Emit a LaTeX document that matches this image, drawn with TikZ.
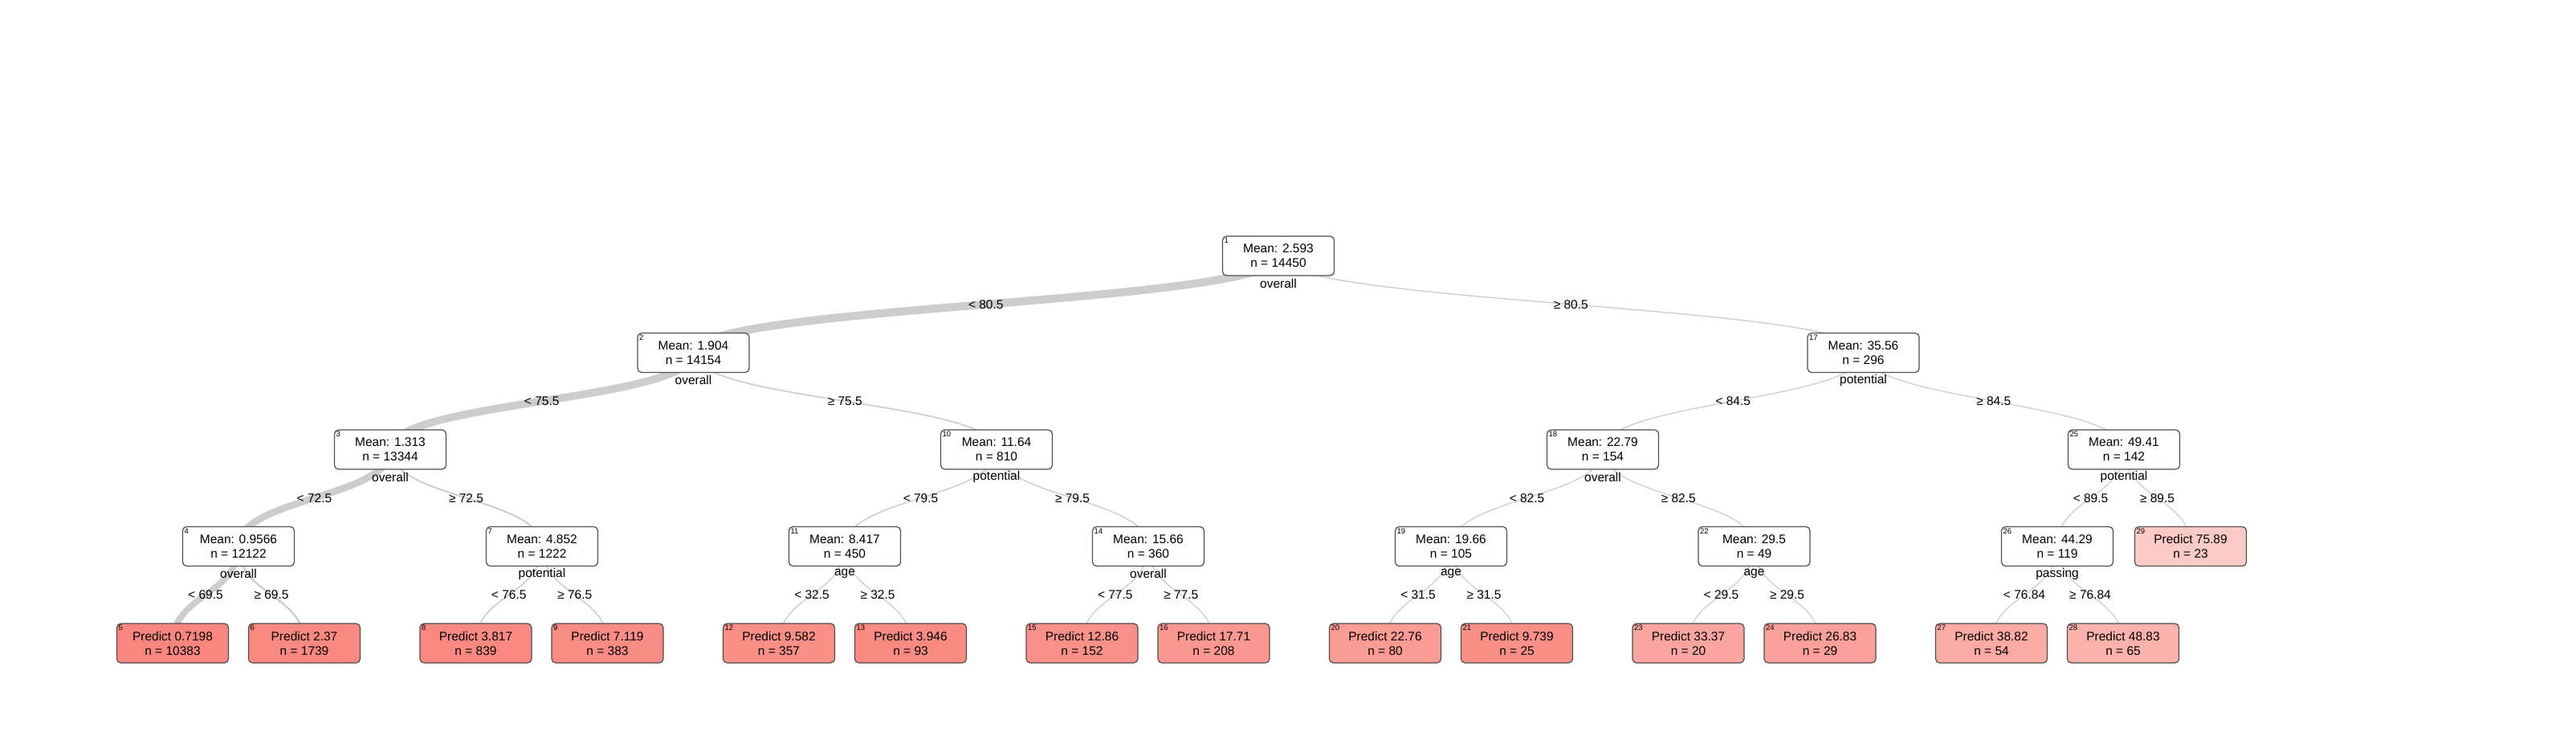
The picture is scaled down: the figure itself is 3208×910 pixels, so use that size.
\documentclass[tikz,border=0pt]{standalone}
\usepackage{fontspec}
\setmainfont{Liberation Sans}
\usetikzlibrary{backgrounds,calc}
\definecolor{leafred}{HTML}{F8766D}
\definecolor{edgegray}{HTML}{CDCDCD}
\definecolor{boxborder}{HTML}{4D4D4D}
\tikzset{
  tnode/.style={draw=boxborder, line width=1.2pt, rounded corners=5pt,
    minimum width=139pt, minimum height=49pt, inner sep=0pt, align=center,
    font=\fontsize{15.5}{18}\selectfont, fill=white},
  leafnode/.style={tnode, fill=leafred!#1!white},
  numlab/.style={font=\fontsize{9.5}{9.5}\selectfont, anchor=north west, inner sep=0pt},
  varlab/.style={font=\fontsize{15.5}{18}\selectfont, inner sep=0pt},
  splitlab/.style={font=\fontsize{15.5}{18}\selectfont, inner sep=0pt},
  treelink/.style={draw=edgegray, line width=#1pt},
}
\newcommand{\tinner}[7]{%
  \node[tnode] (#1) at (#2,#3) {Mean: #5\\n = #6};
  \node[numlab] (#1num) at ($(#1.north west)+(2.5,2.5)$) {#4};
  \node[varlab] (#1var) at ($(#1.center)+(0,34)$) {#7};
}
\newcommand{\tleaf}[7]{%
  \node[leafnode=#7] (#1) at (#2,#3) {Predict #5\\n = #6};
  \node[numlab] (#1num) at ($(#1.north west)+(2.5,2.5)$) {#4};
}
\newcommand{\tlink}[4]{%
  \draw[treelink=#3] (#1.center) .. controls ($(#1.center)+(0,60.25)$) and ($(#2.center)-(0,60.25)$) .. (#2.center)
    node[splitlab, pos=0.5] {#4};
}
\begin{document}
\begin{tikzpicture}[x=1pt,y=-1pt]
\useasboundingbox (0,0) rectangle (3208,910);
\def\La{318.5}
\def\Lb{439}
\def\Lc{559.5}
\def\Ld{680}
\def\Le{800.5}
% internal nodes
\tinner{n1}{1592}{\La}{1}{2.593}{14450}{overall}
\tinner{n2}{863.5}{\Lb}{2}{1.904}{14154}{overall}
\tinner{n17}{2320.5}{\Lb}{17}{35.56}{296}{potential}
\tinner{n3}{486}{\Lc}{3}{1.313}{13344}{overall}
\tinner{n10}{1241}{\Lc}{10}{11.64}{810}{potential}
\tinner{n18}{1996}{\Lc}{18}{22.79}{154}{overall}
\tinner{n25}{2645}{\Lc}{25}{49.41}{142}{potential}
\tinner{n4}{297}{\Ld}{4}{0.9566}{12122}{overall}
\tinner{n7}{675}{\Ld}{7}{4.852}{1222}{potential}
\tinner{n11}{1052}{\Ld}{11}{8.417}{450}{age}
\tinner{n14}{1430}{\Ld}{14}{15.66}{360}{overall}
\tinner{n19}{1807}{\Ld}{19}{19.66}{105}{age}
\tinner{n22}{2184.5}{\Ld}{22}{29.5}{49}{age}
\tinner{n26}{2562}{\Ld}{26}{44.29}{119}{passing}
% leaves
\tleaf{l29}{2728}{\Ld}{29}{75.89}{23}{38}
\tleaf{l5}{215}{\Le}{5}{0.7198}{10383}{88}
\tleaf{l6}{379}{\Le}{6}{2.37}{1739}{86}
\tleaf{l8}{592.5}{\Le}{8}{3.817}{839}{86}
\tleaf{l9}{756.5}{\Le}{9}{7.119}{383}{83}
\tleaf{l12}{970}{\Le}{12}{9.582}{357}{82}
\tleaf{l13}{1134}{\Le}{13}{3.946}{93}{85}
\tleaf{l15}{1347.5}{\Le}{15}{12.86}{152}{80}
\tleaf{l16}{1511.5}{\Le}{16}{17.71}{208}{76}
\tleaf{l20}{1725}{\Le}{20}{22.76}{80}{73}
\tleaf{l21}{1889}{\Le}{21}{9.739}{25}{82}
\tleaf{l23}{2102.5}{\Le}{23}{33.37}{20}{66}
\tleaf{l24}{2266.5}{\Le}{24}{26.83}{29}{70}
\tleaf{l27}{2480}{\Le}{27}{38.82}{54}{62}
\tleaf{l28}{2644}{\Le}{28}{48.83}{65}{56}
% connectors
\begin{scope}[on background layer]
\tlink{n1}{n2}{10.0}{< 80.5}
\tlink{n1}{n17}{1.38}{≥ 80.5}
\tlink{n2}{n3}{9.5}{< 75.5}
\tlink{n2}{n10}{1.7}{≥ 75.5}
\tlink{n3}{n4}{8.75}{< 72.5}
\tlink{n3}{n7}{1.96}{≥ 72.5}
\tlink{n4}{l5}{7.67}{< 69.5}
\tlink{n4}{l6}{2.28}{≥ 69.5}
\tlink{n7}{l8}{1.72}{< 76.5}
\tlink{n7}{l9}{1.44}{≥ 76.5}
\tlink{n10}{n11}{1.48}{< 79.5}
\tlink{n10}{n14}{1.42}{≥ 79.5}
\tlink{n11}{l12}{1.42}{< 32.5}
\tlink{n11}{l13}{1.26}{≥ 32.5}
\tlink{n14}{l15}{1.29}{< 77.5}
\tlink{n14}{l16}{1.33}{≥ 77.5}
\tlink{n17}{n18}{1.3}{< 84.5}
\tlink{n17}{n25}{1.29}{≥ 84.5}
\tlink{n18}{n19}{1.27}{< 82.5}
\tlink{n18}{n22}{1.23}{≥ 82.5}
\tlink{n19}{l20}{1.25}{< 31.5}
\tlink{n19}{l21}{1.22}{≥ 31.5}
\tlink{n22}{l23}{1.21}{< 29.5}
\tlink{n22}{l24}{1.22}{≥ 29.5}
\tlink{n25}{n26}{1.27}{< 89.5}
\tlink{n25}{l29}{1.21}{≥ 89.5}
\tlink{n26}{l27}{1.23}{< 76.84}
\tlink{n26}{l28}{1.24}{≥ 76.84}
\end{scope}
\end{tikzpicture}
\end{document}
